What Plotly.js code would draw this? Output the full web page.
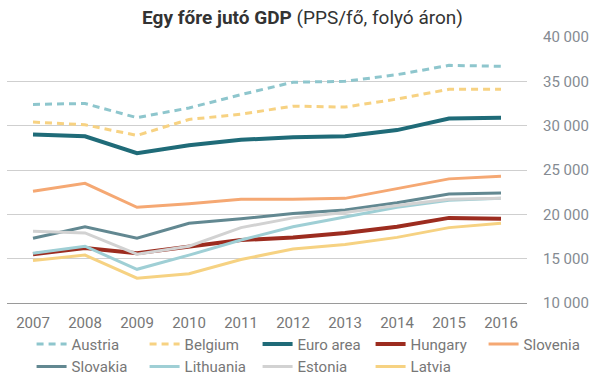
<!DOCTYPE html>
<html>
<head>
<meta charset="utf-8">
<script src="https://cdn.plot.ly/plotly-3.0.1.min.js"></script>
<style>html,body{margin:0;padding:0;background:#fff;}#chart{width:605px;height:378px;}</style>
</head>
<body>
<div id="chart"></div>
<script>
const years = [2007, 2008, 2009, 2010, 2011, 2012, 2013, 2014, 2015, 2016];
const austria   = [32400, 32500, 30900, 32000, 33500, 34900, 35000, 35750, 36800, 36700];
const belgium   = [30400, 30100, 28900, 30700, 31300, 32200, 32100, 33000, 34100, 34100];
const euroArea  = [29000, 28800, 26900, 27800, 28400, 28700, 28800, 29500, 30800, 30900];
const hungary   = [15500, 16200, 15600, 16400, 17100, 17400, 17900, 18600, 19600, 19500];
const slovenia  = [22600, 23500, 20800, 21200, 21700, 21700, 21800, 22900, 24000, 24300];
const slovakia  = [17300, 18600, 17300, 19000, 19500, 20100, 20500, 21300, 22300, 22400];
const lithuania = [15600, 16400, 13800, 15400, 17100, 18600, 19700, 20800, 21600, 21800];
const estonia   = [18100, 17900, 15500, 16400, 18500, 19600, 20200, 21000, 21700, 21800];
const latvia    = [14800, 15400, 12800, 13300, 14900, 16100, 16600, 17400, 18500, 19000];
const yTicks = [10000, 15000, 20000, 25000, 30000, 35000, 40000];

const series = [
  {name: 'Austria',   y: austria,   color: '#8ec6cd', width: 3,   dash: '7px,5px'},
  {name: 'Belgium',   y: belgium,   color: '#f7d282', width: 3,   dash: '7px,5px'},
  {name: 'Euro area', y: euroArea,  color: '#1f6b78', width: 4,   dash: 'solid'},
  {name: 'Hungary',   y: hungary,   color: '#9c2c1f', width: 4,   dash: 'solid'},
  {name: 'Slovenia',  y: slovenia,  color: '#f5a873', width: 3,   dash: 'solid'},
  {name: 'Slovakia',  y: slovakia,  color: '#628891', width: 3,   dash: 'solid'},
  {name: 'Lithuania', y: lithuania, color: '#9fcfd5', width: 3,   dash: 'solid'},
  {name: 'Estonia',   y: estonia,   color: '#d2d2d2', width: 3,   dash: 'solid'},
  {name: 'Latvia',    y: latvia,    color: '#f6d282', width: 3,   dash: 'solid'}
];

const drawOrder = ['Austria','Belgium','Euro area','Slovenia','Slovakia','Hungary','Lithuania','Estonia','Latvia'];
const legendRank = {};
series.forEach((s, i) => legendRank[s.name] = i + 1);

const traces = drawOrder.map(n => {
  const s = series.find(t => t.name === n);
  return {
    x: years, y: s.y, name: s.name, type: 'scatter', mode: 'lines',
    line: {color: s.color, width: s.width, dash: s.dash},
    legendrank: legendRank[s.name],
    hoverinfo: 'skip'
  };
});

const layout = {
  width: 605, height: 378,
  margin: {l: 7, r: 78, t: 37, b: 75, autoexpand: false},
  paper_bgcolor: '#fff', plot_bgcolor: '#fff',
  font: {family: 'Roboto, sans-serif', size: 15, color: '#7a7a7a'},
  separators: ', ',
  title: {
    text: '<b>Egy főre jutó GDP</b> (PPS/fő, folyó áron)',
    font: {family: 'Roboto, sans-serif', size: 19, color: '#333'},
    x: 0.5, xanchor: 'center', xref: 'container', y: 0.955, yanchor: 'middle'
  },
  xaxis: {
    range: [2006.5, 2016.5], tickvals: years, ticktext: years.map(String),
    showgrid: false, zeroline: false, showline: true, linecolor: '#9a9a9a', linewidth: 1,
    ticks: 'outside', ticklen: 6, tickcolor: 'rgba(0,0,0,0)',
    tickfont: {size: 15, color: '#777'}, fixedrange: true
  },
  yaxis: {
    range: [10000, 40000], tickvals: yTicks, tickformat: ',d', side: 'right',
    showgrid: true, gridcolor: '#cfcfcf', gridwidth: 1, zeroline: false, showline: false,
    ticks: 'outside', ticklen: 12, tickcolor: 'rgba(0,0,0,0)',
    tickfont: {size: 15, color: '#858b92'}, fixedrange: true
  },
  showlegend: true,
  legend: {
    orientation: 'h', x: 1.1338, xanchor: 'right', y: -0.093, yanchor: 'top',
    entrywidth: 68, entrywidthmode: 'pixels', traceorder: 'normal',
    font: {size: 15, color: '#777'}, itemwidth: 30, tracegroupgap: 0,
    bgcolor: 'rgba(0,0,0,0)'
  },
  hovermode: false
};

Plotly.newPlot('chart', traces, layout, {displayModeBar: false, staticPlot: true});
</script>
</body>
</html>
